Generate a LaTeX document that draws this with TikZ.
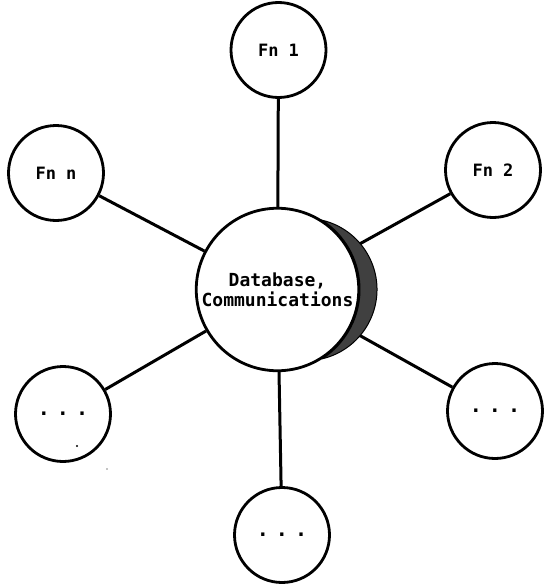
\documentclass[tikz,border=0pt]{standalone}
\usepackage{fontspec}
\newfontfamily\labfont{DejaVu Sans Mono}
\begin{document}
\begin{tikzpicture}[x=1pt,y=-1pt,
  ring/.style={circle, draw=black, line width=2.8pt, fill=white, inner sep=0pt},
  fnode/.style={ring, minimum size=95pt, font=\labfont\bfseries\fontsize{17}{19}\selectfont},
  dotnode/.style={ring, minimum size=95pt, font=\labfont\bfseries\fontsize{20}{20}\selectfont},
  hub/.style={ring, minimum size=162.5pt, align=center, font=\labfont\bfseries\fontsize{18}{20}\selectfont},
  link/.style={line width=3pt},
  shade/.style={fill=black!75, draw=black, line width=1pt}]
\useasboundingbox (0,0) rectangle (544,586);
\node[hub] (c) at (277.5,289.5) {Database,\\Communications};
\node[fnode] (f1) at (278.5,50) {Fn 1};
\node[fnode] (f2) at (493,170) {Fn 2};
\node[fnode] (fn) at (56,173) {Fn n};
\node[dotnode] (dl) at (63,414) {.\hspace{7pt}.\hspace{7pt}.};
\node[dotnode] (dr) at (495,411) {.\hspace{7pt}.\hspace{7pt}.};
\node[dotnode] (db) at (282,535) {.\hspace{7pt}.\hspace{7pt}.};
\draw[link] (c) -- (f1);
\draw[link] (c) -- (f2);
\draw[link] (c) -- (fn);
\draw[link] (c) -- (dl);
\draw[link] (c) -- (dr);
\draw[link] (c) -- (db);
% shadow crescent
\filldraw[shade] (c.center) ++(57:82.5) arc[start angle=57, end angle=-57, radius=82.5]
  arc[start angle=-76.5, end angle=76.5, radius=71.2] -- cycle;
% stray specks
\fill (77,446) circle (1.2);
\fill (107,469) circle (0.7);
\end{tikzpicture}
\end{document}
